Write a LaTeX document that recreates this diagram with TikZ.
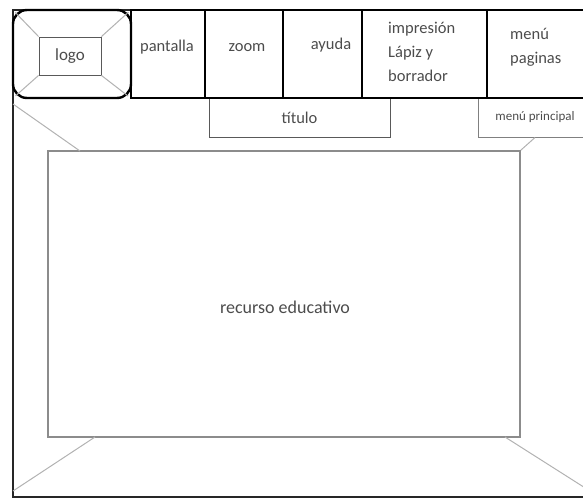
\documentclass[tikz,border=0pt]{standalone}
\usepackage{fontspec}
\setmainfont{Carlito}
\usetikzlibrary{calc}

\begin{document}
\begin{tikzpicture}[x=1pt, y=-1pt,
    every node/.style={inner sep=0pt, text=black!70, font=\fontsize{16.5}{24}\selectfont},
    barcell/.style={draw=black, line width=2.4pt, minimum height=88pt},
    graybox/.style={draw=black!45, line width=1.6pt},
    thinbox/.style={draw=black!65, line width=0.9pt},
    diag/.style={draw=black!30, line width=1pt}]

    \useasboundingbox (0,0) rectangle (583,499);
    \clip (0,0) rectangle (583,499);

    % page frame, its right side runs off the sheet
    \node (fr) at (306.5,253.5) [draw=black!85, line width=2pt, minimum width=587pt, minimum height=487pt] {};

    % content area and the corner lines
    \node (rec) at (284,294) [graybox, minimum width=472pt, minimum height=286pt] {};
    \node (t_rec) at (285,307) [font=\fontsize{18}{20}\selectfont] {recurso educativo};

    \coordinate (o_tl) at (13,104);
    \coordinate (i_tl) at (80,151);
    \coordinate (o_bl) at (13,491);
    \coordinate (i_bl) at (95,437);
    \coordinate (i_br) at (505,437);

    \draw[diag] (o_tl) -- (i_tl);
    \draw[diag] (o_bl) -- (i_bl);
    \draw[diag] (i_br) -- (fr.south east);

    \node (tit) at (299.5,117.5) [thinbox, minimum width=181pt, minimum height=39pt] {título};
    \node (mp) at (535,117.5) [draw=black!50, line width=1pt, minimum width=114pt, minimum height=39pt, font=\fontsize{13}{15}\selectfont] {menú principal};
    \draw[diag] (rec.north east) -- (mp.south);

    % top bar
    \node (c_pant) at (168,54) [barcell, minimum width=74pt] {};
    \node (c_zoom) at (244,54) [barcell, minimum width=78pt] {};
    \node (c_ayuda) at (322.5,54) [barcell, minimum width=79pt] {};
    \node (c_impr) at (424.5,54) [barcell, minimum width=125pt] {};
    \node (c_menu) at (545,54) [barcell, minimum width=116pt] {};
    \node (c_logo) at (72,54) [barcell, minimum width=118pt, fill=white, rounded corners=14pt] {};

    \node (t_pant) at (167,47) {pantalla};
    \node (t_zoom) at (247,48) {zoom};
    \node (t_ayuda) at (331,45) {ayuda};
    \node (t_impr) at (388,22) [anchor=north west, align=left] {impresión\\Lápiz y\\borrador};
    \node (t_menu) at (510,28) [anchor=north west, align=left] {menú\\paginas};

    % logo placeholder
    \node (l_in) at (70,56) [thinbox, minimum width=62pt, minimum height=38pt, font=\fontsize{17}{20}\selectfont] {logo};
    \foreach \a in {north west, north east, south west, south east}
        \draw[diag, shorten <=5pt] (c_logo.\a) -- (l_in.\a);
\end{tikzpicture}
\end{document}
